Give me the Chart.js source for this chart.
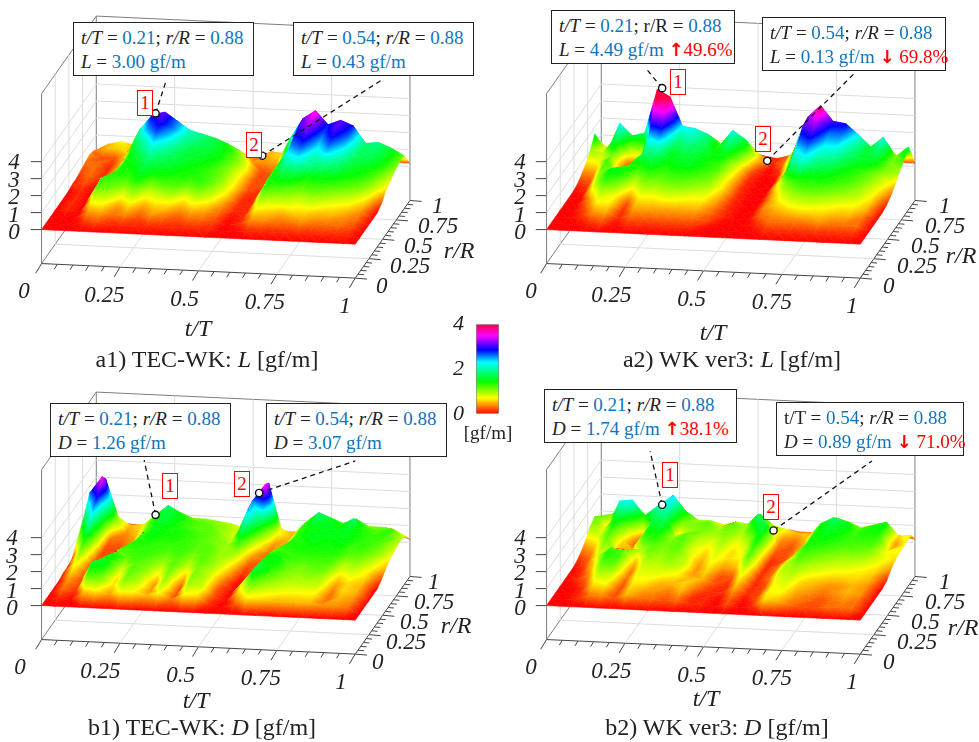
<!DOCTYPE html>
<html>
<head>
<meta charset="utf-8">
<title>Lift and drag distributions</title>
<script src="https://cdn.jsdelivr.net/npm/chart.js@4"></script>
<style>
  html, body { margin: 0; padding: 0; background: #fff; }
  #page { position: relative; width: 979px; height: 742px; overflow: hidden; font-family: "Liberation Serif", serif; color: #222; }
  .panel { position: absolute; width: 474px; height: 366px; }
  .panel canvas { position: absolute; left: 0; top: 0; filter: blur(0.5px); }
  .txt { position: absolute; white-space: nowrap; transform: translate(-50%, -50%); }
  .tick { font-size: 23px; font-style: italic; color: #222; }
  .rtick { transform: translate(0, -50%); }
  .axis { font-size: 24px; font-style: italic; }
  .caption { font-size: 24px; }
  .box { position: absolute; box-sizing: border-box; background: #fff; border: 1.5px solid #222; font-size: 19px; line-height: 23.5px; padding: 3px 0 0 7px; white-space: nowrap; }
  .box b { font-weight: normal; color: #0f75bd; }
  .box u { text-decoration: none; color: #f00; }
  .box s { text-decoration: none; color: #f00; font-family: "DejaVu Sans", sans-serif; font-weight: bold; font-size: 18px; line-height: 18px; }
  .tag { position: absolute; box-sizing: border-box; width: 16px; height: 26px; background: #fff; border: 1px solid #f00; color: #f00; font-size: 19px; line-height: 24px; text-align: center; }
  #scale { position: absolute; left: 450px; top: 307px; }
</style>
</head>
<body>
<div id="page"></div>
<script>
// slices along the blade azimuth (t/T) and the stations along the span (r/R)
const sliceT = [0, .04, .08, .12, .16, .2, .24, .28, .32, .36, .4, .44, .48, .52, .56, .6, .64, .68, .72, .76, .8, .84, .88, .92, .96, 1];
const radii = [.08, .16, .24, .32, .4, .48, .56, .64, .72, .8, .88, .94, 1];

const tTicks = [0, .25, .5, .75, 1];
const rTicks = [0, .25, .5, .75, 1];
const zTicks = [0, 1, 2, 3, 4];
const minorStep = [.05, .1, .15, .2, .3, .35, .4, .45, .55, .6, .65, .7, .8, .85, .9, .95];

// lift, tenths of gf/m, one row per r/R
const liftA1 = [
  [0,0,0,1,2,1,1,1,1,1,1,1,1,1,0,0,1,1,1,1,1,1,1,1,1,0],
  [0,0,0,4,5,3,4,2,4,3,2,3,3,2,0,1,4,4,3,3,4,3,3,3,2,0],
  [0,1,0,8,8,4,7,4,6,6,4,6,5,3,0,1,7,6,5,6,6,5,5,4,3,0],
  [0,1,0,12,11,8,11,7,9,10,7,10,8,4,1,1,10,9,9,8,9,8,7,6,4,0],
  [0,1,0,13,13,12,15,11,13,13,12,13,10,6,1,1,13,13,12,11,12,11,10,9,6,0],
  [0,1,0,8,14,14,16,15,15,14,14,13,11,7,1,1,14,16,16,14,14,14,13,12,9,2],
  [1,2,0,6,14,15,18,17,16,15,14,13,11,7,2,1,14,20,23,19,18,17,15,14,11,6],
  [1,3,1,5,14,17,22,19,17,16,15,14,11,7,2,2,14,25,28,21,25,20,16,15,13,8],
  [2,3,1,5,15,20,27,23,18,16,16,15,12,8,2,2,13,28,31,24,29,24,17,17,15,10],
  [3,3,1,5,18,26,30,26,20,18,17,15,12,7,2,3,15,30,34,27,31,27,18,18,16,11],
  [4,2,2,6,20,29,31,26,21,19,17,14,10,4,4,5,19,31,36,28,31,28,18,19,16,12],
  [3,5,6,6,12,17,20,19,15,13,12,10,6,3,5,6,12,18,22,18,20,18,14,14,10,7],
  [1,5,7,5,4,6,6,6,6,5,4,3,2,2,5,4,3,4,6,6,6,6,5,4,2,2]
];
const liftA2 = [
  [0,0,0,1,2,0,1,1,1,1,1,1,0,0,0,0,0,1,1,1,1,1,1,1,1,0],
  [0,0,1,4,5,1,3,3,3,3,3,3,2,0,0,0,1,3,3,3,3,4,3,3,3,0],
  [0,0,2,7,7,1,5,5,5,5,5,5,3,1,0,0,3,4,5,6,6,6,5,5,3,0],
  [0,0,4,10,8,2,7,7,8,8,7,7,4,1,0,0,4,6,8,9,9,8,7,7,5,0],
  [0,0,8,14,12,6,10,10,11,11,10,9,5,1,0,0,4,8,11,12,12,11,10,9,6,0],
  [0,1,10,15,15,10,13,12,13,13,12,11,6,1,0,0,5,11,14,14,14,13,12,10,7,1],
  [1,2,12,10,13,14,16,14,15,15,14,12,6,1,0,0,7,18,22,17,16,14,13,11,8,3],
  [3,4,13,5,8,18,20,15,16,16,14,13,7,1,0,0,7,22,26,20,19,16,14,12,9,6],
  [6,7,11,2,3,24,28,16,18,17,15,15,8,1,0,0,8,27,30,23,23,18,16,16,11,10],
  [10,9,18,3,3,34,36,19,21,18,14,19,13,2,0,1,11,31,34,26,26,20,16,19,11,13],
  [16,6,23,16,18,44,40,23,22,19,13,22,17,6,0,3,13,32,39,30,29,23,16,22,11,17],
  [10,4,14,10,11,25,22,12,14,15,10,14,12,5,1,3,8,18,23,16,17,13,11,13,8,10],
  [3,2,4,3,3,6,5,4,5,5,3,5,4,2,1,3,2,3,6,5,5,4,3,4,2,2]
];
// drag, tenths of gf/m, listed per t/T slice
const dragB1 = [
  [0,0,0,0,1,1,2,8,13,19,26,22,4],
  [1,3,4,6,8,11,15,20,25,30,36,32,10],
  [0,1,2,2,2,2,2,2,2,3,12,10,4],
  [5,13,16,13,9,5,3,2,2,3,4,5,3],
  [7,12,15,15,14,12,7,5,4,5,6,6,3],
  [4,6,6,8,12,13,14,13,12,12,13,12,5],
  [8,11,12,12,13,13,14,15,15,16,17,18,9],
  [7,9,10,11,12,13,13,14,14,15,15,14,8],
  [5,4,4,7,10,12,13,14,14,13,13,11,6],
  [7,10,11,12,12,13,13,13,13,12,12,11,5],
  [3,2,2,5,9,11,12,12,12,12,11,10,4],
  [7,10,11,11,12,12,12,11,11,10,10,9,4],
  [6,9,9,9,10,10,10,10,9,8,8,7,3],
  [1,2,2,3,5,7,10,14,20,25,26,24,8],
  [0,0,0,0,0,1,2,4,8,15,36,34,10],
  [2,6,8,5,3,3,3,3,3,4,7,7,3],
  [7,12,17,16,15,14,12,8,5,5,5,5,3],
  [6,9,12,14,15,14,13,14,13,13,13,12,5],
  [5,8,10,11,12,13,14,14,15,15,17,18,7],
  [5,7,9,10,11,13,14,15,15,15,16,15,6],
  [5,7,9,11,12,13,14,14,15,15,14,12,5],
  [5,7,9,10,12,13,14,15,15,16,18,15,6],
  [4,3,3,4,6,9,12,13,14,14,13,11,5],
  [4,5,6,6,8,10,12,13,13,13,12,11,5],
  [3,4,5,5,6,7,9,11,12,13,13,10,4],
  [0,0,0,0,0,2,5,7,8,9,9,6,2]
];
const dragB2 = [
  [0,0,0,0,0,0,1,3,6,10,12,9,3],
  [0,0,0,1,1,2,3,5,8,8,6,11,5],
  [1,1,2,4,6,8,10,12,13,16,22,14,4],
  [3,6,9,12,14,13,9,5,6,10,23,17,5],
  [4,7,9,12,13,12,8,5,2,2,14,10,3],
  [2,2,2,3,3,5,9,13,15,17,20,16,5],
  [5,6,7,8,9,11,12,14,16,19,22,24,7],
  [3,5,7,8,9,10,11,11,10,5,11,15,5],
  [3,4,5,8,10,11,12,12,12,10,11,10,4],
  [2,3,5,7,9,9,8,8,9,11,12,10,4],
  [3,5,6,5,4,4,5,6,8,10,9,8,3],
  [1,1,3,5,6,7,8,9,10,11,12,10,4],
  [1,1,1,2,2,4,6,6,7,9,10,9,3],
  [0,0,1,1,2,5,7,8,10,14,18,15,5],
  [2,3,5,7,9,12,13,15,16,17,11,9,4],
  [0,0,1,1,1,1,1,1,2,3,4,7,4],
  [1,2,2,2,3,3,3,2,2,2,3,5,3],
  [6,7,7,8,9,9,8,5,5,5,6,5,3],
  [5,7,8,9,10,12,13,14,14,14,14,10,4],
  [3,4,5,6,8,10,12,14,15,16,18,15,5],
  [2,3,4,5,7,9,11,13,14,15,16,13,5],
  [2,2,3,4,6,8,10,12,13,13,12,10,4],
  [3,3,4,4,6,8,10,12,13,14,14,12,5],
  [3,4,5,5,6,7,9,11,13,14,15,14,5],
  [3,3,4,4,5,6,7,8,7,5,4,6,3],
  [0,0,0,0,0,1,4,6,7,7,8,7,2]
];

// probe points 1 and 2 of each panel: t/T, r/R and height in the picture
const probeA1 = [[.21, .88, 3.0], [.55, .88, .8]];
const probeA2 = [[.215, .88, 4.49], [.55, .88, .5]];
const probeB1 = [[.21, .88, 1.5], [.54, .88, 3.07]];
const probeB2 = [[.215, .88, 2.1], [.57, .88, .89]];

const colourStops = [[0, '#ff0000'], [.7, '#ffff00'], [1.45, '#00ff00'], [2.3, '#00ffff'], [2.85, '#0000ff'], [3.5, '#ff00ff'], [4, '#ff0040']];

function byColumns(cols) {
  return radii.map((r, i) => cols.map(c => c[i]));
}

// oblique view of the box: t/T runs right, r/R runs back, height runs straight up
function project(t, r, z) {
  return { x: 37 + 321 * t + 56 * r, y: 231 + 15 * t - 80 * r - 17.5 * z };
}

// colour follows the height across the facet: the gradient runs along the plane through its three corners
function facetFill(chart, facet) {
  const xs = chart.scales.x, ys = chart.scales.y;
  const pts = facet.map(p => ({ x: xs.getPixelForValue(p.x), y: ys.getPixelForValue(p.y), z: p.z }));
  if (!Number.isFinite(pts[0].x) || !Number.isFinite(pts[0].y)) return '#f00'; // scales not laid out yet
  const [p0, p1, p2] = pts;
  const det = (p1.x - p0.x) * (p2.y - p0.y) - (p2.x - p0.x) * (p1.y - p0.y);
  let gx = 1e-3, gy = 0;
  if (Math.abs(det) > .05) {
    gx = ((p1.z - p0.z) * (p2.y - p0.y) - (p2.z - p0.z) * (p1.y - p0.y)) / det;
    gy = ((p1.x - p0.x) * (p2.z - p0.z) - (p2.x - p0.x) * (p1.z - p0.z)) / det;
  }
  let norm = gx * gx + gy * gy;
  if (norm < 1e-6) { gx = 1e-3; gy = 0; norm = 1e-6; }
  const x0 = p0.x - gx * p0.z / norm, y0 = p0.y - gy * p0.z / norm;
  const g = chart.ctx.createLinearGradient(x0, y0, x0 + gx * 4 / norm, y0 + gy * 4 / norm);
  colourStops.forEach(s => g.addColorStop(s[0] / 4, s[1]));
  return g;
}

function facetSet(facet) {
  return {
    data: [facet[0], facet[1], facet[2], facet[0]],
    showLine: true,
    tension: 0,
    pointRadius: 0,
    borderWidth: .6,
    fill: 'shape',
    backgroundColor: ctx => facetFill(ctx.chart, facet),
    borderColor: ctx => facetFill(ctx.chart, facet)
  };
}

function lineSet(points, colour, width, dash) {
  return { data: points, showLine: true, borderColor: colour, borderWidth: width, borderDash: dash || [], pointRadius: 0, fill: false, tension: 0 };
}

function boxLines() {
  const grid = '#dcdcdc', edge = '#7d7d7d', sets = [];
  const seg = (a, b, c, w) => sets.push(lineSet([project(...a), project(...b)], c, w || 1));
  tTicks.slice(1, 4).forEach(t => {
    seg([t, 1, -2], [t, 1, 8], grid);
    seg([t, 0, -2], [t, 1, -2], grid);
  });
  rTicks.slice(1, 4).forEach(r => {
    seg([0, r, -2], [0, r, 8], grid);
    seg([0, r, -2], [1, r, -2], grid);
  });
  zTicks.forEach(z => {
    seg([0, 1, z], [1, 1, z], grid);
    seg([0, 0, z], [0, 1, z], grid);
  });
  seg([0, 1, -2], [0, 1, 8], edge);
  seg([1, 1, -2], [1, 1, 8], edge);
  seg([0, 0, -2], [0, 0, 8], edge);
  seg([0, 0, 8], [0, 1, 8], edge);
  seg([0, 1, 8], [1, 1, 8], edge);
  seg([0, 0, -2], [0, 1, -2], edge);
  seg([0, 0, -2], [1, 0, -2], '#444');
  seg([1, 0, -2], [1, 1, -2], '#444');
  return sets;
}

function tickLines() {
  const sets = [];
  const along = (p, dx, dy) => sets.push(lineSet([p, { x: p.x + dx, y: p.y + dy }], '#444', 1));
  tTicks.forEach(t => along(project(t, 0, -2), -6, 10));
  minorStep.forEach(t => along(project(t, 0, -2), -3, 5));
  rTicks.forEach(r => along(project(1, r, -2), 12, 1));
  minorStep.forEach(r => along(project(1, r, -2), 6, .5));
  zTicks.forEach(z => along(project(0, 0, z), -11, 0));
  return sets;
}

// facets of the surface, front strips first so they are painted last
function surfaceSets(rows) {
  const node = (i, k) => {
    const z = k < 0 ? 0 : rows[k][i] / 10; // the front edge r/R = 0 lies on zero
    const p = project(sliceT[i], k < 0 ? 0 : radii[k], z);
    return { x: p.x, y: p.y, z };
  };
  const sets = [];
  radii.forEach((r, k) => {
    sliceT.slice(1).forEach((t, i) => {
      const a = node(i, k - 1), b = node(i + 1, k - 1), c = node(i + 1, k), d = node(i, k);
      if (Math.abs(a.z - c.z) < Math.abs(b.z - d.z)) {
        sets.push(facetSet([a, b, c]), facetSet([a, c, d]));
      } else {
        sets.push(facetSet([a, b, d]), facetSet([b, c, d]));
      }
    });
  });
  return sets;
}

function buildPanel(cfg) {
  const wrap = document.createElement('div');
  wrap.className = 'panel';
  wrap.style.left = cfg.left + 'px';
  wrap.style.top = cfg.top + 'px';
  page.appendChild(wrap);
  const canvas = document.createElement('canvas');
  canvas.width = 474;
  canvas.height = 366;
  canvas.style.width = '474px';
  canvas.style.height = '366px';
  wrap.appendChild(canvas);

  const probes = cfg.probes.map(p => project(p[0], p[1], p[2]));
  const leaders = probes.map((p, i) => lineSet([p, cfg.leads[i]], '#111', 1.3, [5, 4]));
  const dots = {
    data: probes, showLine: false, pointRadius: 3.6, borderWidth: 1.4,
    pointBorderColor: '#111', pointBackgroundColor: '#fff'
  };

  new Chart(canvas, {
    type: 'scatter',
    data: { datasets: [dots, ...leaders, ...surfaceSets(cfg.rows), ...tickLines(), ...boxLines()] },
    options: {
      responsive: false,
      animation: false,
      events: [],
      layout: { padding: 0 },
      plugins: { legend: { display: false }, tooltip: { enabled: false } },
      scales: {
        x: { type: 'linear', display: false, min: 0, max: 474 },
        y: { type: 'linear', display: false, min: 0, max: 366, reverse: true }
      }
    }
  });

  const text = (html, x, y, cls) => {
    const el = document.createElement('div');
    el.className = 'txt ' + cls;
    el.innerHTML = html;
    el.style.left = x + 'px';
    el.style.top = y + 'px';
    wrap.appendChild(el);
  };
  tTicks.forEach(t => {
    const p = project(t, 0, -2);
    text(String(t), p.x - 13 + cfg.shift, p.y + 25, 'tick');
  });
  rTicks.forEach(r => {
    const p = project(1, r, -2);
    text(String(r), p.x + 18 + cfg.shift, p.y + 5, 'tick rtick');
  });
  zTicks.forEach(z => {
    const p = project(0, 0, z);
    text(String(z), p.x - 23 + cfg.shift / 2, p.y + 1, 'tick');
  });
  text('t/T', cfg.tTitle[0], cfg.tTitle[1], 'axis');
  text('r/R', cfg.rTitle[0], cfg.rTitle[1], 'axis');
  text(cfg.caption, cfg.capAt[0], cfg.capAt[1], 'caption');

  cfg.boxes.forEach(b => {
    const el = document.createElement('div');
    el.className = 'box';
    el.innerHTML = b.html;
    el.style.cssText = `left:${b.at[0]}px;top:${b.at[1]}px;width:${b.at[2]}px;height:${b.at[3]}px`;
    wrap.appendChild(el);
  });
  cfg.tags.forEach((at, i) => {
    const el = document.createElement('div');
    el.className = 'tag';
    el.textContent = i + 1;
    el.style.left = at[0] + 'px';
    el.style.top = at[1] + 'px';
    wrap.appendChild(el);
  });
}

const page = document.getElementById('page');
const head = (t, r, tName, rName) => `${tName || '<i>t/T</i>'} = <b>${t}</b>; ${rName || '<i>r/R</i>'} = <b>${r}</b>`;
const up = pct => ` <s>↑</s><u>${pct}</u>`;
const down = pct => ` <s>↓</s> <u>${pct}</u>`;

buildPanel({
  left: 0, top: 0, shift: 0, rows: liftA1, probes: probeA1,
  leads: [{ x: 165, y: 76 }, { x: 385, y: 77 }],
  tTitle: [198, 328], rTitle: [459, 250], capAt: [207, 359],
  caption: 'a1) TEC-WK: <i>L</i> [gf/m]',
  boxes: [
    { at: [73, 22, 181, 54], html: head('0.21', '0.88') + '<br><i>L</i> = <b>3.00 gf/m</b>' },
    { at: [293, 22, 181, 54], html: head('0.54', '0.88') + '<br><i>L</i> = <b>0.43 gf/m</b>' }
  ],
  tags: [[137, 90], [246, 132]]
});
buildPanel({
  left: 505, top: 0, shift: 2, rows: liftA2, probes: probeA2,
  leads: [{ x: 138, y: 64 }, { x: 351, y: 71 }],
  tTitle: [208, 332], rTitle: [456, 255], capAt: [227, 359],
  caption: 'a2) WK ver3: <i>L</i> [gf/m]',
  boxes: [
    { at: [46, 10, 184, 54], html: head('0.21', '0.88', null, 'r/R') + '<br><i>L</i> = <b>4.49 gf/m</b>' + up('49.6%') },
    { at: [257, 17, 184, 54], html: head('0.54', '0.88') + '<br><i>L</i> = <b>0.13 gf/m</b>' + down('69.8%') }
  ],
  tags: [[165, 69], [250, 126]]
});
buildPanel({
  left: 0, top: 376, shift: -4, rows: byColumns(dragB1), probes: probeB1,
  leads: [{ x: 142, y: 81 }, { x: 358, y: 82 }],
  tTitle: [196, 324], rTitle: [456, 249], capAt: [202, 351],
  caption: 'b1) TEC-WK: <i>D</i> [gf/m]',
  boxes: [
    { at: [50, 27, 181, 54], html: head('0.21', '0.88') + '<br><i>D</i> = <b>1.26 gf/m</b>' },
    { at: [266, 27, 181, 54], html: head('0.54', '0.88') + '<br><i>D</i> = <b>3.07 gf/m</b>' }
  ],
  tags: [[162, 97], [234, 95]]
});
buildPanel({
  left: 505, top: 376, shift: 2, rows: byColumns(dragB2), probes: probeB2,
  leads: [{ x: 143, y: 72 }, { x: 370, y: 82 }],
  tTitle: [201, 322], rTitle: [458, 251], capAt: [212, 351],
  caption: 'b2) WK ver3: <i>D</i> [gf/m]',
  boxes: [
    { at: [39, 13, 193, 54], html: head('0.21', '0.88') + '<br><i>D</i> = <b>1.74 gf/m</b>' + up('38.1%') },
    { at: [271, 26, 188, 54], html: head('0.54', '0.88', 't/T') + '<br><i>D</i> = <b>0.89 gf/m</b>' + down('71.0%') }
  ],
  tags: [[157, 86], [258, 118]]
});

// colour scale in the middle
const scaleValues = [4];
const scaleCanvas = document.createElement('canvas');
scaleCanvas.id = 'scale';
scaleCanvas.width = 55;
scaleCanvas.height = 124;
page.appendChild(scaleCanvas);
new Chart(scaleCanvas, {
  type: 'bar',
  data: {
    labels: ['L'],
    datasets: [{
      data: scaleValues,
      barPercentage: 1,
      categoryPercentage: 1,
      borderColor: '#888',
      borderWidth: 1,
      backgroundColor: ctx => {
        const a = ctx.chart.chartArea;
        if (!a) return '#fff';
        const g = ctx.chart.ctx.createLinearGradient(0, a.bottom, 0, a.top);
        colourStops.forEach(s => g.addColorStop(s[0] / 4, s[1]));
        return g;
      }
    }]
  },
  options: {
    responsive: false,
    animation: false,
    events: [],
    layout: { padding: { top: 3, bottom: 7, right: 6, left: 0 } },
    plugins: { legend: { display: false }, tooltip: { enabled: false } },
    scales: {
      x: { display: false },
      y: {
        min: 0, max: 4,
        afterFit: s => { s.width = 26; },
        grid: { display: false },
        border: { display: false },
        ticks: { stepSize: 2, padding: 4, color: '#222', font: { family: 'Liberation Serif', size: 22, style: 'italic' } }
      }
    }
  }
});
const unit = document.createElement('div');
unit.className = 'txt';
unit.style.cssText = 'left:488px;top:433px;font-size:19px';
unit.textContent = '[gf/m]';
page.appendChild(unit);
</script>
</body>
</html>
